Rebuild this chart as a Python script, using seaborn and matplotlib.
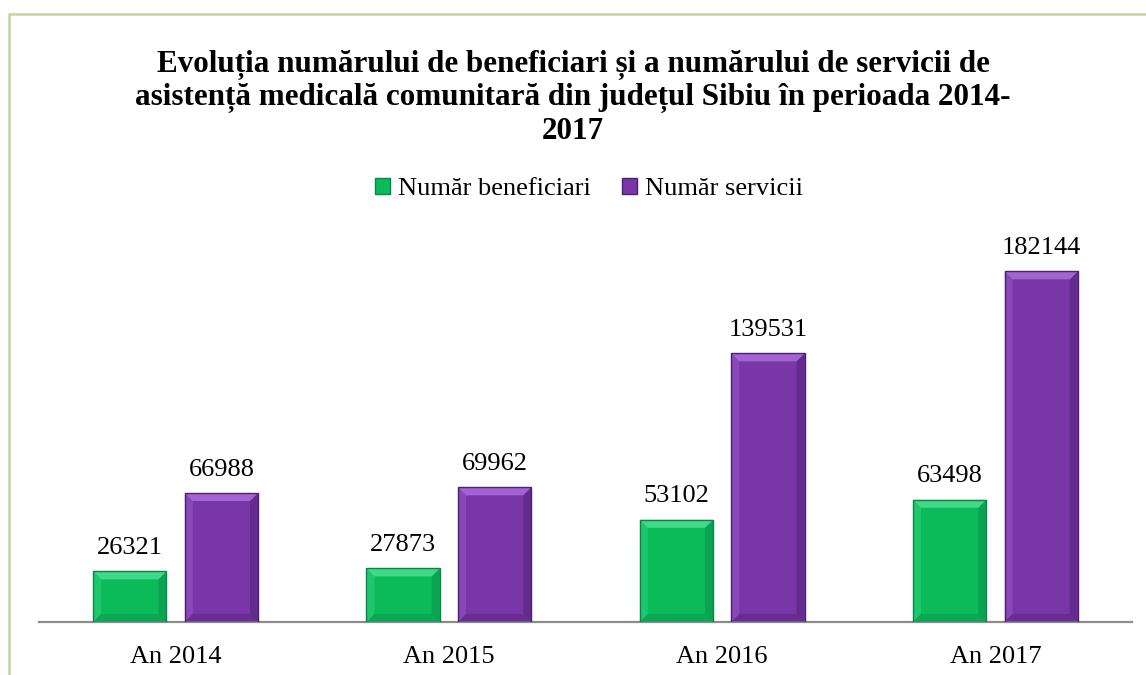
# -*- coding: utf-8 -*-
# Beneficiari si servicii de asistenta medicala comunitara, judetul Sibiu 2014-2017

import numpy as np
import pandas as pd
import matplotlib
matplotlib.use("Agg")
import matplotlib.pyplot as plt
from matplotlib.patches import Polygon, Rectangle
import seaborn as sns

# datele
ani = ["An 2014", "An 2015", "An 2016", "An 2017"]
beneficiari = [26321, 27873, 53102, 63498]
servicii = [66988, 69962, 139531, 182144]
serii = ["Număr beneficiari", "Număr servicii"]

titlu = ("Evoluția numărului de beneficiari și a numărului de servicii de\n"
         "asistență medicală comunitară din județul Sibiu în perioada 2014-\n"
         "2017")

# culori
verde = "#0bbb5a"
mov = "#7836a6"
culori = {serii[0]: verde, serii[1]: mov}
deschis = {verde: "#45dd8d", mov: "#a66ad8"}
inchis = {verde: "#07864a", mov: "#4b1f72"}

sns.set_theme(style="white")
plt.rcParams["font.family"] = ["Liberation Serif", "DejaVu Serif"]
plt.rcParams["text.color"] = "black"

df = pd.DataFrame({
    "an": ani * 2,
    "valoare": beneficiari + servicii,
    "serie": [serii[0]] * len(ani) + [serii[1]] * len(ani),
})

fig = plt.figure(figsize=(11.46, 6.75), dpi=100)
ax = fig.add_axes([39 / 1146, 53 / 675, 1093 / 1146, 385 / 675])

sns.barplot(data=df, x="an", y="valoare", hue="serie", palette=culori,
            width=0.67, gap=0.2, ax=ax, legend=False, saturation=1,
            edgecolor="none", linewidth=0)

ax.set_xlim(-0.5, len(ani) - 0.5)
ax.set_ylim(0, 200000)

# etichete valori
for cont in ax.containers:
    ax.bar_label(cont, fmt="%d", padding=9, fontsize=19, color="black")

# axele
for s in ["top", "left", "right"]:
    ax.spines[s].set_visible(False)
ax.spines["bottom"].set_color("#8c8c8c")
ax.spines["bottom"].set_linewidth(1.6)
ax.set_yticks([])
ax.set_xlabel("")
ax.set_ylabel("")
ax.tick_params(axis="x", length=0, pad=17, labelsize=19, labelcolor="black")
ax.grid(False)

# efect de relief pe bare
fig.canvas.draw()
inv = ax.transData.inverted()
b = 8
for p in ax.patches:
    fc = matplotlib.colors.to_hex(p.get_facecolor(), keep_alpha=False)
    x0, y0 = p.get_x(), p.get_y()
    x1, y1 = x0 + p.get_width(), y0 + p.get_height()
    (px0, py0), (px1, py1) = ax.transData.transform([(x0, y0), (x1, y1)])
    sus = [(px0, py1), (px1, py1), (px1 - b, py1 - b), (px0 + b, py1 - b)]
    jos = [(px0, py0), (px1, py0), (px1 - b, py0 + b), (px0 + b, py0 + b)]
    dr = [(px1, py0), (px1, py1), (px1 - b, py1 - b), (px1 - b, py0 + b)]
    st = [(px0, py0), (px0, py1), (px0 + b, py1 - b), (px0 + b, py0 + b)]
    for pts, c, a in [(st, deschis[fc], 0.35), (dr, inchis[fc], 0.45),
                      (jos, inchis[fc], 0.35), (sus, deschis[fc], 0.9)]:
        ax.add_patch(Polygon(inv.transform(pts), closed=True, facecolor=c,
                             edgecolor="none", alpha=a, zorder=3))
    ax.add_patch(Rectangle((x0, y0), x1 - x0, y1 - y0, facecolor="none",
                           edgecolor=inchis[fc], linewidth=1.0, zorder=4))

# legenda
handles = [Rectangle((0, 0), 1, 1, facecolor=culori[s], edgecolor=inchis[culori[s]])
           for s in serii]
fig.legend(handles, serii, loc="center", bbox_to_anchor=(589 / 1146, 1 - 189 / 675),
           ncol=2, frameon=False, fontsize=19, handlelength=0.55,
           handleheight=0.55, handletextpad=0.3, columnspacing=1.2,
           labelcolor="black")

# titlu
fig.text(0.5, 1 - 50 / 675, titlu, ha="center", va="top", fontsize=22.4,
         fontweight="bold", linespacing=1.15, color="black")

# chenar
fig.patches.append(Rectangle((9 / 1146, -0.1), 1.2, 1 - 14 / 675 + 0.1,
                             transform=fig.transFigure, facecolor="none",
                             edgecolor="#c4d79c", linewidth=1.8))

fig.savefig("out.png", dpi=100)
